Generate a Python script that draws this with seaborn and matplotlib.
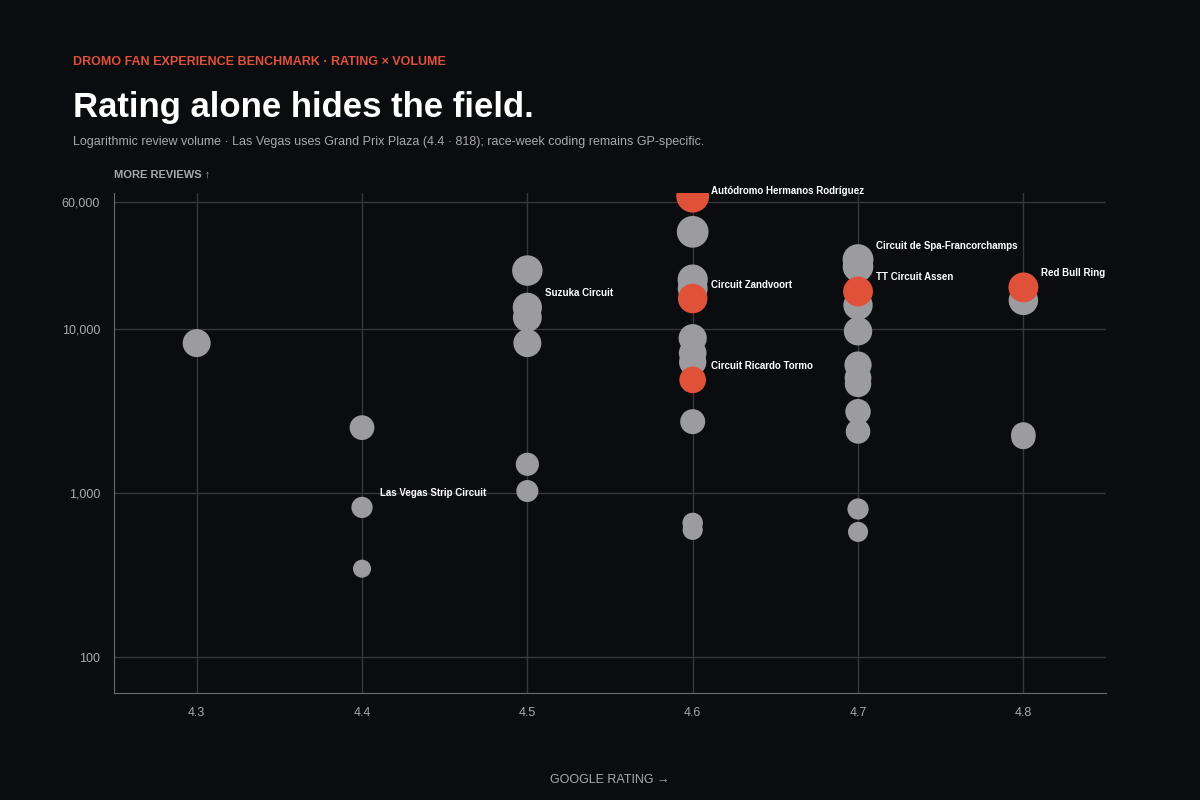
import numpy as np
import pandas as pd
import matplotlib
matplotlib.use("Agg")
import matplotlib.pyplot as plt
import seaborn as sns
from matplotlib.ticker import FixedLocator, NullLocator

ratings = [4.3,
           4.4, 4.4, 4.4,
           4.5, 4.5, 4.5, 4.5, 4.5, 4.5,
           4.6, 4.6, 4.6, 4.6, 4.6, 4.6, 4.6, 4.6, 4.6, 4.6, 4.6, 4.6,
           4.7, 4.7, 4.7, 4.7, 4.7, 4.7, 4.7, 4.7, 4.7, 4.7, 4.7, 4.7,
           4.8, 4.8, 4.8, 4.8]
reviews = [8230,
           2510, 818, 346,
           22800, 13600, 11800, 8230, 1500, 1030,
           64900, 39300, 20100, 17700, 15400, 8820, 7150, 6300, 4910, 2730, 658, 597,
           26600, 24100, 17000, 14000, 9720, 6050, 5050, 4640, 3140, 2380, 800, 580,
           18000, 15000, 2280, 2200]
highlight = ["Autódromo Hermanos Rodríguez", "Circuit Zandvoort", "Circuit Ricardo Tormo",
             "TT Circuit Assen", "Red Bull Ring"]
labels = {
    (4.6, 64900): "Autódromo Hermanos Rodríguez",
    (4.6, 15400): "Circuit Zandvoort",
    (4.6, 4910): "Circuit Ricardo Tormo",
    (4.7, 17000): "TT Circuit Assen",
    (4.8, 18000): "Red Bull Ring",
    (4.7, 26600): "Circuit de Spa-Francorchamps",
    (4.5, 13600): "Suzuka Circuit",
    (4.4, 818): "Las Vegas Strip Circuit",
}
yticks = [100, 1000, 10000, 60000]
ytick_labels = ["100", "1,000", "10,000", "60,000"]
xticks = [4.3, 4.4, 4.5, 4.6, 4.7, 4.8]

BG = "#0b0c10"; RED = "#e0513a"; GRAY = "#9b9ba0"; GRID = "#36373c"; TXT = "#a8a8ad"

df = pd.DataFrame({"rating": ratings, "reviews": reviews})
df["label"] = [labels.get((r, v), "") for r, v in zip(ratings, reviews)]
df["group"] = ["hl" if l in highlight else "other" for l in df["label"]]
df["logv"] = np.log10(df["reviews"])
df = df.sort_values("group", ascending=False)

sns.set_style("dark")
plt.rcParams["font.family"] = ["Liberation Sans", "DejaVu Sans"]
fig = plt.figure(figsize=(12, 8), dpi=100, facecolor=BG)
ax = fig.add_axes([0.095, 0.134, 0.8267, 0.625])
ax.set_facecolor(BG)
sns.scatterplot(data=df, x="rating", y="reviews", hue="group", size="logv",
                sizes=(170, 560), palette={"hl": RED, "other": GRAY},
                edgecolor="none", alpha=1, legend=False, ax=ax, zorder=3)
ax.set_yscale("log")
ax.set_xlim(4.25, 4.85)
ax.set_ylim(60.5, 68000)
ax.yaxis.set_major_locator(FixedLocator(yticks))
ax.yaxis.set_minor_locator(NullLocator())
ax.set_yticklabels(ytick_labels)
ax.set_xticks(xticks)
ax.set_xticklabels([f"{x:.1f}" for x in xticks])
ax.grid(True, color=GRID, lw=1)
for s in ["top", "right"]:
    ax.spines[s].set_visible(False)
for s in ["left", "bottom"]:
    ax.spines[s].set_color("#6a6a70")
ax.tick_params(colors=TXT, labelsize=9, length=0, pad=10)
ax.set_xlabel("GOOGLE RATING →", color=TXT, fontsize=9, labelpad=40)
ax.set_ylabel("")

for _, r in df[df["label"] != ""].iterrows():
    dy = 5 if r["label"].startswith("Autó") else 14
    ax.annotate(r["label"], (r["rating"], r["reviews"]), xytext=(18, dy),
                textcoords="offset pixels", color="white", fontsize=7,
                fontweight="bold", va="center", ha="left", zorder=4)

fig.text(0.095, 0.782, "MORE REVIEWS ↑", color=TXT, fontsize=8, fontweight="bold", va="center")
fig.text(0.061, 0.923, "DROMO FAN EXPERIENCE BENCHMARK · RATING × VOLUME", color=RED,
         fontsize=9, fontweight="bold", va="center")
fig.text(0.061, 0.866, "Rating alone hides the field.", color="white", fontsize=25,
         fontweight="bold", va="center")
fig.text(0.061, 0.822, "Logarithmic review volume · Las Vegas uses Grand Prix Plaza (4.4 · 818); race-week coding remains GP-specific.",
         color=TXT, fontsize=9, va="center")
fig.savefig("out.png", dpi=100, facecolor=BG)
